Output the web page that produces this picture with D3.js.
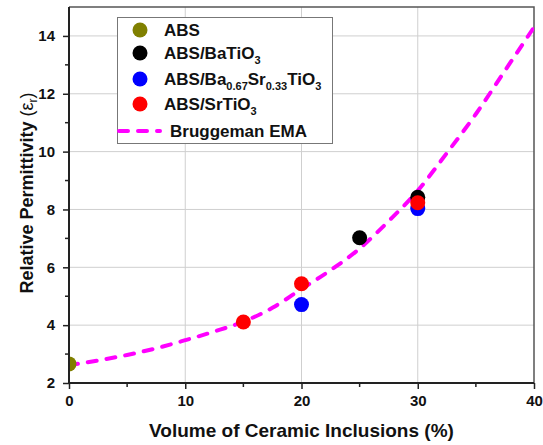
<!DOCTYPE html>
<html>
<head>
<meta charset="utf-8">
<script src="https://cdn.jsdelivr.net/npm/d3@7/dist/d3.min.js"></script>
<style>
  body { margin: 0; background: #fff; }
  svg { display: block; font-family: "Liberation Sans", Arial, sans-serif; }
</style>
</head>
<body>
<svg id="chart" width="543" height="445"></svg>
<script>
// values
const xTicks = [0, 10, 20, 30, 40];
const yTicks = [2, 4, 6, 8, 10, 12, 14];

const absX = [0];
const absY = [2.66];
const batioX = [25, 30];
const batioY = [7.02, 8.42];
const bstX = [20, 30];
const bstY = [4.71, 8.03];
const srtioX = [15, 20, 30];
const srtioY = [4.11, 5.43, 8.23];

// Bruggeman EMA curve, sampled by eye
const emaX = [0, 2.5, 5, 7.5, 10, 12.5, 15, 17.5, 20, 22.5, 25, 27.5, 30, 32.5, 35, 37.5, 40];
const emaY = [2.62, 2.78, 2.97, 3.2, 3.48, 3.78, 4.12, 4.6, 5.25, 5.9, 6.65, 7.6, 8.65, 9.95, 11.3, 12.8, 14.3];

const series = [
  { name: 'ABS', color: '#808000', xs: absX, ys: absY },
  { name: 'ABS/BaTiO3', color: '#000000', xs: batioX, ys: batioY },
  { name: 'ABS/Ba0.67Sr0.33TiO3', color: '#0000ff', xs: bstX, ys: bstY },
  { name: 'ABS/SrTiO3', color: '#ff0000', xs: srtioX, ys: srtioY },
];

const margin = { top: 7, right: 9, bottom: 62, left: 69 };
const width = 543;
const height = 445;
const innerWidth = width - margin.left - margin.right;
const innerHeight = height - margin.top - margin.bottom;

const svg = d3.select('#chart');
const x = d3.scaleLinear().domain([0, 40]).range([0, innerWidth]);
const y = d3.scaleLinear().domain([2, 15]).range([innerHeight, 0]);

svg.append('defs').append('clipPath').attr('id', 'plotClip')
  .append('rect').attr('width', innerWidth).attr('height', innerHeight);

const chart = svg.append('g').attr('transform', `translate(${margin.left},${margin.top})`);

// grid
chart.append('g').selectAll('line').data(xTicks.slice(1, -1)).join('line')
  .attr('x1', (d) => x(d)).attr('x2', (d) => x(d))
  .attr('y1', 0).attr('y2', innerHeight)
  .attr('stroke', '#cfcfcf').attr('stroke-width', 1);
chart.append('g').selectAll('line').data(yTicks.slice(1)).join('line')
  .attr('x1', 0).attr('x2', innerWidth)
  .attr('y1', (d) => y(d)).attr('y2', (d) => y(d))
  .attr('stroke', '#cfcfcf').attr('stroke-width', 1);

// frame top / right
chart.append('path')
  .attr('d', `M0,0H${innerWidth}V${innerHeight}`)
  .attr('fill', 'none').attr('stroke', '#555').attr('stroke-width', 1.5);

// curve
const line = d3.line().x((d) => x(d[0])).y((d) => y(d[1])).curve(d3.curveMonotoneX);
chart.append('path')
  .datum(d3.zip(emaX, emaY))
  .attr('clip-path', 'url(#plotClip)')
  .attr('d', line)
  .attr('fill', 'none')
  .attr('stroke', '#ff00ff')
  .attr('stroke-width', 4)
  .attr('stroke-linecap', 'round')
  .attr('stroke-dasharray', '9,10');

// points
const points = chart.append('g').attr('clip-path', 'url(#plotClip)');
series.forEach((s) => {
  points.selectAll(null).data(d3.zip(s.xs, s.ys)).join('circle')
    .attr('cx', (d) => x(d[0])).attr('cy', (d) => y(d[1]))
    .attr('r', 7.5).attr('fill', s.color);
});

// axes
const xAxis = d3.axisBottom(x).tickValues(xTicks).tickSize(6).tickPadding(6);
const yAxis = d3.axisLeft(y).tickValues(yTicks).tickSize(6).tickPadding(8);

const gx = chart.append('g').attr('transform', `translate(0,${innerHeight})`).call(xAxis);
const gy = chart.append('g').call(yAxis);

[gx, gy].forEach((g) => {
  g.select('.domain').attr('stroke', '#222').attr('stroke-width', 2);
  g.selectAll('.tick line').attr('stroke', '#222').attr('stroke-width', 1.5);
  g.selectAll('.tick text')
    .attr('fill', '#111')
    .style('font-size', '15px')
    .style('font-weight', 'bold')
    .style('font-family', '"Liberation Sans", Arial, sans-serif');
});
gy.select('.domain').attr('d', `M0,${innerHeight}V0`);
gx.select('.domain').attr('d', `M0,0H${innerWidth}`);

// minor ticks
chart.append('g').selectAll('line').data([5, 15, 25, 35]).join('line')
  .attr('x1', (d) => x(d)).attr('x2', (d) => x(d))
  .attr('y1', innerHeight).attr('y2', innerHeight + 4)
  .attr('stroke', '#222').attr('stroke-width', 1.5);
chart.append('g').selectAll('line').data([3, 5, 7, 9, 11, 13]).join('line')
  .attr('x1', 0).attr('x2', -4)
  .attr('y1', (d) => y(d)).attr('y2', (d) => y(d))
  .attr('stroke', '#222').attr('stroke-width', 1.5);

// axis titles
svg.append('text')
  .attr('x', margin.left + innerWidth / 2).attr('y', 437)
  .attr('text-anchor', 'middle')
  .style('font-size', '19px').style('font-weight', 'bold').attr('fill', '#111')
  .text('Volume of Ceramic Inclusions (%)');

const yTitle = svg.append('text')
  .attr('transform', `translate(33,${margin.top + innerHeight / 2 - 2}) rotate(-90)`)
  .attr('text-anchor', 'middle')
  .style('font-size', '18px').attr('fill', '#111');
yTitle.append('tspan').style('font-weight', 'bold').text('Relative Permittivity ');
yTitle.append('tspan').text('(\u03b5');
yTitle.append('tspan').attr('dy', 4).style('font-size', '12px').text('r');
yTitle.append('tspan').attr('dy', -4).text(')');

// legend
const legend = svg.append('g');
legend.append('rect')
  .attr('x', 117.5).attr('y', 17.5).attr('width', 215).attr('height', 126)
  .attr('fill', '#fff').attr('stroke', '#777').attr('stroke-width', 1);

const legendRows = [30, 53, 79, 104];
const labelParts = [
  [['ABS', 0]],
  [['ABS/BaTiO', 0], ['3', 1]],
  [['ABS/Ba', 0], ['0.67', 1], ['Sr', 0], ['0.33', 1], ['TiO', 0], ['3', 1]],
  [['ABS/SrTiO', 0], ['3', 1]],
];

series.forEach((s, i) => {
  legend.append('circle').attr('cx', 140).attr('cy', legendRows[i]).attr('r', 7.5).attr('fill', s.color);
  const t = legend.append('text')
    .attr('x', 164).attr('y', legendRows[i] + 6)
    .style('font-size', '17px').style('font-weight', 'bold').attr('fill', '#111');
  let sub = 0;
  labelParts[i].forEach(([txt, isSub]) => {
    const span = t.append('tspan').text(txt);
    if (isSub !== sub) span.attr('dy', isSub ? 5 : -5);
    if (isSub) span.style('font-size', '11px');
    sub = isSub;
  });
});

legend.append('line')
  .attr('x1', 119).attr('x2', 160).attr('y1', 131).attr('y2', 131)
  .attr('stroke', '#ff00ff').attr('stroke-width', 4)
  .attr('stroke-linecap', 'round').attr('stroke-dasharray', '9,10');
legend.append('text')
  .attr('x', 170).attr('y', 137)
  .style('font-size', '17px').style('font-weight', 'bold').attr('fill', '#111')
  .text('Bruggeman EMA');
</script>
</body>
</html>
